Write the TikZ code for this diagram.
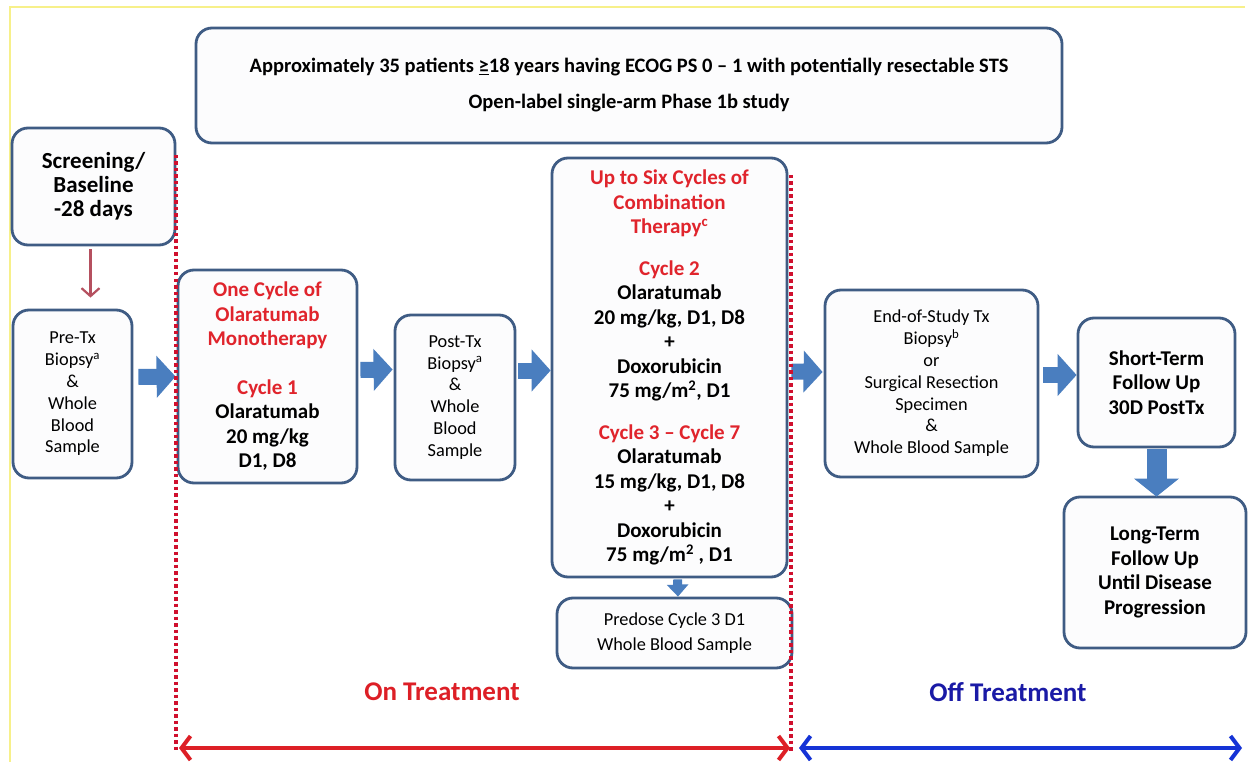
\documentclass[tikz,border=0pt]{standalone}
\usepackage{fontspec}
\setmainfont{Carlito}
\usetikzlibrary{arrows.meta,calc}
\definecolor{boxblue}{HTML}{3F5C84}
\definecolor{boxfill}{HTML}{FCFCFD}
\definecolor{tred}{HTML}{E0242C}
\definecolor{dotred}{HTML}{D0102E}
\definecolor{arrblue}{HTML}{4A7EBF}
\definecolor{offblue}{HTML}{1A1AA6}
\definecolor{brightblue}{HTML}{1533D6}
\definecolor{onred}{HTML}{DD1F26}
\definecolor{thinred}{HTML}{B5505F}
\definecolor{frameyellow}{HTML}{F7F08A}
\begin{document}
\begin{tikzpicture}[x=1pt,y=-1pt,
  box/.style={draw=boxblue, line width=2.8pt, fill=boxfill, rounded corners=16pt, inner sep=0pt},
  bigtxt/.style={align=center, font=\fontsize{21}{24.5}\selectfont\bfseries},
  smalltxt/.style={align=center, font=\fontsize{18.3}{21.8}\selectfont},
  toptxt/.style={align=center, font=\fontsize{20.5}{36}\selectfont\bfseries},
  barrow/.style={line width=16pt, arrblue, -{Triangle[length=19pt,width=41pt]}},
  darrow/.style={line width=20pt, arrblue, -{Triangle[length=18pt,width=44pt]}},
  sarrow/.style={line width=9pt, arrblue, -{Triangle[length=12pt,width=21pt]}},
  dotline/.style={dotred, line width=3.6pt, dash pattern=on 3.5pt off 3pt},
  span/.style={line width=4pt, {Straight Barb[length=9pt,width=24pt]}-{Straight Barb[length=9pt,width=24pt]}}
]
\useasboundingbox (0,0) rectangle (1248,762);
\fill[white] (0,0) rectangle (1248,762);
% faint frame
\coordinate (f1) at (10,762);
\coordinate (f2) at (10,7);
\coordinate (f3) at (1245,7);
\draw[frameyellow, line width=1.5pt] (f1) -- (f2) -- (f3);

% top box
\node[box, toptxt, minimum width=866pt, minimum height=115pt] (top) at (629,85.5)
  {Approximately 35 patients \underline{≥}18 years having ECOG PS 0 – 1 with potentially resectable STS\\
   Open-label single-arm Phase 1b study};

% boxes
\node[box, bigtxt, font=\fontsize{23}{24}\selectfont\bfseries, minimum width=163pt, minimum height=117pt] (screen) at (93.5,186.5)
  {Screening/\\Baseline\\-28 days};
\node[box, smalltxt, minimum width=119pt, minimum height=168pt] (pretx) at (72.5,394)
  {Pre-Tx\\Biopsy\textsuperscript{a}\\\&\\Whole\\Blood\\Sample};
\node[box, bigtxt, minimum width=179pt, minimum height=213pt] (mono) at (267.5,376.5)
  {\textcolor{tred}{One Cycle of}\\\textcolor{tred}{Olaratumab}\\\textcolor{tred}{Monotherapy}\\[24pt]
   \textcolor{tred}{Cycle 1}\\Olaratumab\\20 mg/kg\\D1, D8};
\node[box, smalltxt, minimum width=120pt, minimum height=165pt] (posttx) at (455,397.5)
  {Post-Tx\\Biopsy\textsuperscript{a}\\\&\\Whole\\Blood\\Sample};
\node[box, bigtxt, minimum width=235pt, minimum height=419pt] (combo) at (669.5,367.5)
  {\textcolor{tred}{Up to Six Cycles of}\\\textcolor{tred}{Combination}\\\textcolor{tred}{Therapy\textsuperscript{c}}\\[17pt]
   \textcolor{tred}{Cycle 2}\\Olaratumab\\20 mg/kg, D1, D8\\+\\Doxorubicin\\75 mg/m\textsuperscript{2}, D1\\[17pt]
   \textcolor{tred}{Cycle 3 – Cycle 7}\\Olaratumab\\15 mg/kg, D1, D8\\+\\Doxorubicin\\75 mg/m\textsuperscript{2} , D1};
\node[box, smalltxt, minimum width=235pt, minimum height=70pt, font=\fontsize{18.3}{25}\selectfont] (predose) at (674.5,633)
  {Predose Cycle 3 D1\\Whole Blood Sample};
\node[box, smalltxt, minimum width=213pt, minimum height=187pt] (eos) at (931.5,383.5)
  {End-of-Study Tx\\Biopsy\textsuperscript{b}\\or\\Surgical Resection\\Specimen\\\&\\Whole Blood Sample};
\node[box, bigtxt, minimum width=157pt, minimum height=129pt] (short) at (1156.5,382.5)
  {Short-Term\\Follow Up\\30D PostTx};
\node[box, bigtxt, minimum width=182pt, minimum height=151pt] (long) at (1155,572.5)
  {Long-Term\\Follow Up\\Until Disease\\Progression};

% thin arrow
\draw[thinred, line width=2.2pt, -{Straight Barb[length=8pt,width=18pt]}, shorten <=3pt, shorten >=11pt]
  ([xshift=-3pt]screen.south) -- ([xshift=-3pt]screen.south |- pretx.north);

% block arrows
\draw[barrow] ([xshift=5pt,yshift=17pt]pretx.east) -- ([xshift=-1pt]mono.west);
\draw[barrow] ([xshift=2pt,yshift=6.5pt]mono.east) -- ([xshift=-1pt,yshift=28pt]posttx.west);
\draw[barrow] ([xshift=2pt,yshift=27pt]posttx.east) -- ([yshift=-3pt]combo.west);
\draw[barrow] ([xshift=3pt,yshift=-4pt]combo.east) -- ([xshift=-1pt,yshift=11.5pt]eos.west);
\draw[barrow] ([xshift=4pt,yshift=8.5pt]eos.east) -- ([xshift=0pt,yshift=7.5pt]short.west);
\draw[darrow] ([yshift=-1pt]short.south) -- ([yshift=-1pt]short.south |- long.north);
\draw[sarrow] ([xshift=8pt,yshift=-1pt]combo.south) -- ([xshift=3.5pt]predose.north);

% dotted separators
\coordinate (d1a) at (176,155);
\coordinate (d1b) at (176,752);
\coordinate (d2a) at (791,175);
\coordinate (d2b) at (791,752);
\draw[dotline] (d1a) -- (d1b);
\draw[dotline] (d2a) -- (d2b);

% bottom spans
\coordinate (onL) at (179,748);
\coordinate (onR) at (790,748);
\coordinate (offL) at (799,748);
\coordinate (offR) at (1242,748);
\draw[span, onred] (onL) -- (onR);
\draw[span, brightblue] (offL) -- (offR);
\node[font=\fontsize{27}{30}\selectfont\bfseries, text=onred] (ontxt) at (442,692) {On Treatment};
\node[font=\fontsize{27}{30}\selectfont\bfseries, text=offblue] (offtxt) at (1008,692) {Off Treatment};
\end{tikzpicture}
\end{document}
